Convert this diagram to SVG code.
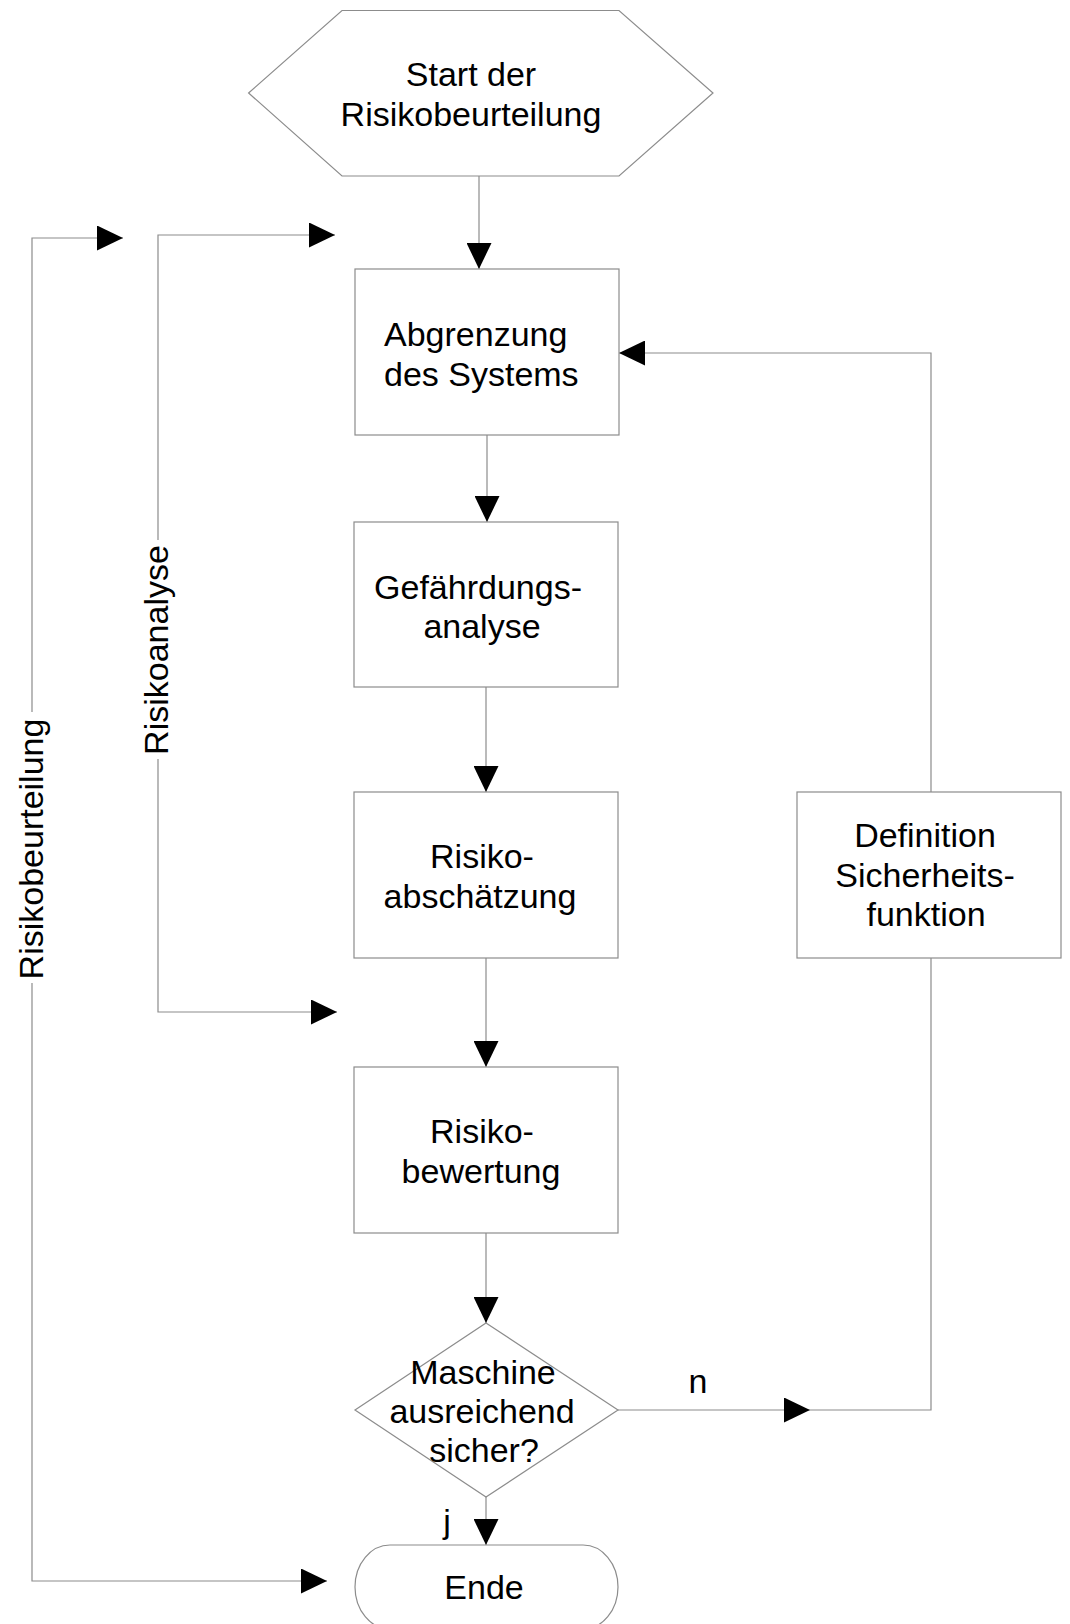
<svg xmlns="http://www.w3.org/2000/svg" width="1070" height="1624" viewBox="0 0 1070 1624">
<style>
.shape{fill:#fff;stroke:#8c8c8c;stroke-width:1.2}
.line{fill:none;stroke:#8c8c8c;stroke-width:1.2}
text{font-family:"Liberation Sans",Arial,sans-serif;font-size:34px;fill:#000}
.c{text-anchor:middle}
</style>
<defs>
<marker id="ah" markerUnits="userSpaceOnUse" markerWidth="26" markerHeight="25" refX="26" refY="12.5" orient="auto" viewBox="0 0 26 25">
<path d="M0,0 L26,12.5 L0,25 Z" fill="#000"/>
</marker>
</defs>
<g id="connectors">
<path class="line" d="M479,176 V269" marker-end="url(#ah)"/>
<path class="line" d="M487,435 V522" marker-end="url(#ah)"/>
<path class="line" d="M486,687 V792" marker-end="url(#ah)"/>
<path class="line" d="M486,958 V1067" marker-end="url(#ah)"/>
<path class="line" d="M486,1233 V1323" marker-end="url(#ah)"/>
<path class="line" d="M486,1497 V1545" marker-end="url(#ah)"/>
<path class="line" d="M618,1410 H810" marker-end="url(#ah)"/>
<path class="line" d="M810,1410 H931 V958"/>
<path class="line" d="M931,792 V353 H619" marker-end="url(#ah)"/>
<path class="line" d="M32,712 V238 H123" marker-end="url(#ah)"/>
<path class="line" d="M32,983 V1581 H327" marker-end="url(#ah)"/>
<path class="line" d="M158,540 V235 H335" marker-end="url(#ah)"/>
<path class="line" d="M158,759 V1012 H337" marker-end="url(#ah)"/>
<text transform="translate(43,849) rotate(-90)" class="c">Risikobeurteilung</text>
<text transform="translate(168,650) rotate(-90)" class="c">Risikoanalyse</text>
<text x="698" y="1393" class="c">n</text>
<text x="447" y="1533" class="c">j</text>
</g>
<g id="start">
<polygon class="shape" points="248.6,93 342,10.5 619,10.5 713,93 619,176 342,176"/>
<text x="471" y="86" class="c">Start der</text>
<text x="471" y="126" class="c">Risikobeurteilung</text>
</g>
<g id="abgrenzung">
<rect class="shape" x="355" y="269" width="264" height="166"/>
<text x="384" y="346">Abgrenzung</text>
<text x="384" y="386">des Systems</text>
</g>
<g id="gefaehrdung">
<rect class="shape" x="354" y="522" width="264" height="165"/>
<text x="478" y="599" class="c">Gefährdungs-</text>
<text x="482" y="638" class="c">analyse</text>
</g>
<g id="abschaetzung">
<rect class="shape" x="354" y="792" width="264" height="166"/>
<text x="482" y="868" class="c">Risiko-</text>
<text x="480" y="908" class="c">abschätzung</text>
</g>
<g id="bewertung">
<rect class="shape" x="354" y="1067" width="264" height="166"/>
<text x="482" y="1143" class="c">Risiko-</text>
<text x="481" y="1183" class="c">bewertung</text>
</g>
<g id="definition">
<rect class="shape" x="797" y="792" width="264" height="166"/>
<text x="925" y="847" class="c">Definition</text>
<text x="925" y="887" class="c">Sicherheits-</text>
<text x="926" y="926" class="c">funktion</text>
</g>
<g id="entscheidung">
<polygon class="shape" points="486,1323 618,1410 486,1497 355,1410"/>
<text x="483" y="1384" class="c">Maschine</text>
<text x="482" y="1423" class="c">ausreichend</text>
<text x="484" y="1462" class="c">sicher?</text>
</g>
<g id="ende">
<rect class="shape" x="355" y="1545" width="263" height="84" rx="35" ry="42"/>
<text x="484" y="1599" class="c">Ende</text>
</g>
</svg>
